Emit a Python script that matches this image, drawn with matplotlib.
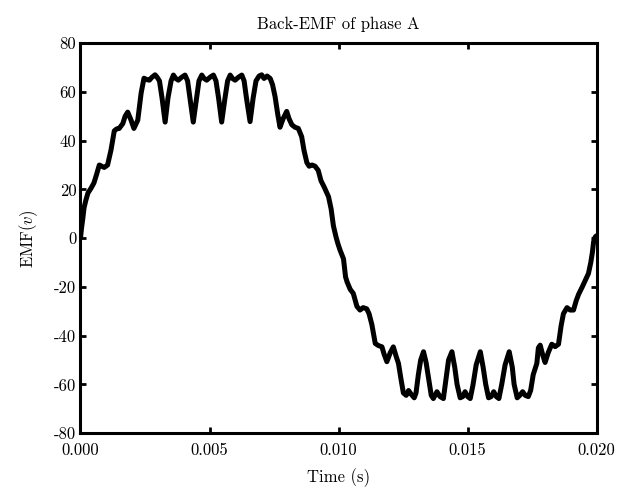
import matplotlib
matplotlib.use("Agg")
import matplotlib.pyplot as plt
from matplotlib.ticker import FormatStrFormatter
import numpy as np

plt.rcParams["font.family"] = ["cmr10", "DejaVu Serif"]
plt.rcParams["mathtext.fontset"] = "cm"
plt.rcParams["axes.unicode_minus"] = False

# traced back-EMF of phase A (time in ms, EMF in V)
time_ms = [
    0.00, 0.04, 0.09, 0.14, 0.21, 0.29, 0.41, 0.52, 0.62, 0.73,
    0.83, 0.92, 1.05, 1.18, 1.31, 1.40, 1.50, 1.64, 1.73, 1.83,
    1.96, 2.07, 2.22, 2.35, 2.46, 2.58, 2.67, 2.77, 2.89, 2.97,
    3.06, 3.16, 3.28, 3.39, 3.51, 3.60, 3.69, 3.79, 3.92, 4.05,
    4.15, 4.24, 4.37, 4.50, 4.59, 4.70, 4.79, 4.89, 5.02, 5.15,
    5.25, 5.35, 5.47, 5.60, 5.70, 5.80, 5.89, 5.99, 6.12, 6.25,
    6.34, 6.43, 6.57, 6.69, 6.80, 6.92, 7.02, 7.11, 7.23, 7.35,
    7.44, 7.54, 7.64, 7.73, 7.85, 7.99, 8.08, 8.19, 8.31, 8.44,
    8.57, 8.66, 8.77, 8.86, 8.97, 9.09, 9.21, 9.32, 9.44, 9.61,
    9.71, 9.80, 9.90, 9.98, 10.06, 10.19, 10.27, 10.33, 10.45, 10.57,
    10.71, 10.83, 10.95, 11.09, 11.18, 11.29, 11.42, 11.53, 11.68, 11.76,
    11.87, 12.00, 12.12, 12.23, 12.32, 12.42, 12.51, 12.62, 12.71, 12.81,
    12.93, 13.00, 13.09, 13.18, 13.29, 13.39, 13.48, 13.59, 13.67, 13.81,
    13.93, 14.06, 14.17, 14.26, 14.39, 14.50, 14.59, 14.71, 14.81, 14.90,
    15.00, 15.10, 15.21, 15.33, 15.49, 15.60, 15.70, 15.81, 15.91, 16.01,
    16.11, 16.21, 16.32, 16.45, 16.61, 16.73, 16.80, 16.92, 17.02, 17.13,
    17.23, 17.35, 17.44, 17.54, 17.68, 17.74, 17.81, 17.91, 18.00, 18.12,
    18.26, 18.39, 18.52, 18.62, 18.71, 18.85, 18.97, 19.10, 19.21, 19.30,
    19.44, 19.55, 19.68, 19.77, 19.83, 19.88, 19.94, 20.00,
]
emf = [
    0.0, 4.0, 8.0, 12.5, 15.6, 18.5, 20.5, 22.6, 26.0, 30.0,
    29.5, 29.0, 30.0, 36.0, 44.0, 44.8, 45.0, 47.0, 50.0, 51.7,
    48.4, 45.0, 48.4, 59.5, 65.6, 65.0, 64.8, 66.0, 67.0, 66.0,
    64.5, 57.5, 47.6, 57.5, 64.5, 66.9, 65.5, 64.8, 66.0, 66.9,
    64.5, 57.5, 47.6, 57.5, 64.5, 66.9, 65.5, 64.8, 66.0, 66.9,
    64.5, 57.5, 47.6, 57.5, 64.5, 66.9, 65.5, 64.8, 66.0, 66.9,
    64.5, 57.5, 47.8, 57.5, 64.5, 66.5, 67.0, 65.5, 66.5, 65.5,
    63.0, 58.0, 51.0, 45.5, 49.0, 52.0, 49.0, 46.5, 45.5, 45.0,
    41.6, 36.0, 31.0, 29.5, 30.0, 29.5, 27.8, 23.5, 21.0, 17.0,
    12.0, 5.0, 0.5, -2.5, -5.0, -8.5, -15.9, -18.0, -21.0, -22.7,
    -28.0, -29.5, -28.5, -29.0, -31.0, -35.5, -43.2, -44.0, -44.6, -47.5,
    -50.7, -47.0, -44.6, -48.5, -51.4, -58.0, -63.5, -64.5, -62.5, -64.0,
    -65.5, -63.5, -56.0, -50.0, -46.6, -51.0, -57.0, -64.5, -65.8, -63.0,
    -65.0, -65.8, -57.0, -50.0, -46.6, -53.0, -60.0, -65.5, -65.0, -63.0,
    -65.0, -65.8, -60.0, -52.0, -46.6, -53.0, -60.0, -65.5, -65.0, -63.0,
    -65.0, -65.8, -60.0, -52.0, -46.6, -53.0, -60.0, -65.5, -64.5, -63.0,
    -64.5, -65.0, -62.5, -56.0, -51.4, -45.0, -43.9, -48.0, -51.0, -47.0,
    -43.5, -44.5, -43.5, -36.0, -31.0, -28.5, -29.5, -29.5, -25.5, -23.0,
    -20.0, -17.5, -14.5, -10.0, -6.0, -1.5, 0.5, 1.0,
]

x_ticks = [0.000, 0.005, 0.010, 0.015, 0.020]
y_ticks = [-80, -60, -40, -20, 0, 20, 40, 60, 80]

fig = plt.figure(figsize=(6.19, 4.90), dpi=100)
ax = fig.add_axes([0.130, 0.116, 0.834, 0.796])

ax.plot(np.array(time_ms) * 1e-3, emf, color="black", lw=3.6,
        solid_joinstyle="round", solid_capstyle="round")

ax.set_xlim(0, 0.02)
ax.set_ylim(-80, 80)
ax.set_xticks(x_ticks)
ax.set_yticks(y_ticks)
ax.xaxis.set_major_formatter(FormatStrFormatter("%.3f"))
ax.yaxis.set_major_formatter(FormatStrFormatter("%d"))
ax.tick_params(direction="in", top=True, right=True, length=4, width=2,
               labelsize=12)
ax.tick_params(axis="x", pad=7)
ax.tick_params(axis="y", pad=3)
for s in ax.spines.values():
    s.set_linewidth(2.2)

ax.set_title("Back-EMF of phase A", fontsize=12, pad=10)
ax.set_xlabel("Time (s)", fontsize=12, labelpad=7)
ax.set_ylabel("EMF($v$)", fontsize=12, labelpad=10)

fig.savefig("out.png", dpi=100, facecolor="white")
